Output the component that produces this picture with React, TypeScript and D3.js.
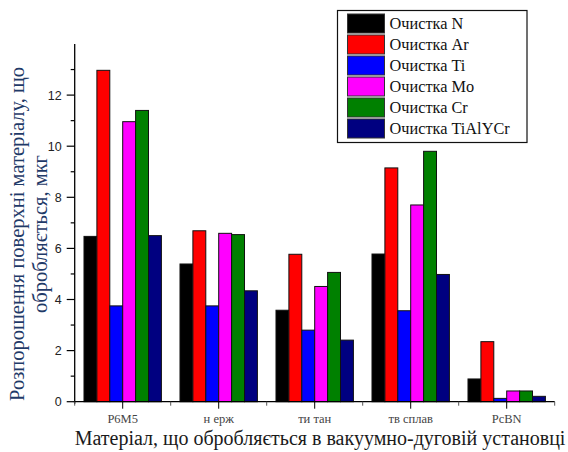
import React, { useEffect, useRef } from 'react';
import * as d3 from 'd3';

const categories = ['P6M5', 'н ерж', 'ти тан', 'тв сплав', 'PcBN'];
const seriesNames = ['Очистка N', 'Очистка Ar', 'Очистка Ti', 'Очистка Mo', 'Очистка Cr', 'Очистка TiAlYCr'];
const seriesColors = ['#000000', '#ff0000', '#0000ff', '#ff00ff', '#008000', '#000080'];

const cleanN = [6.47, 5.39, 3.58, 5.78, 0.89];
const cleanAr = [12.97, 6.69, 5.77, 9.15, 2.35];
const cleanTi = [3.75, 3.75, 2.8, 3.56, 0.13];
const cleanMo = [10.96, 6.59, 4.51, 7.7, 0.42];
const cleanCr = [11.4, 6.54, 5.06, 9.8, 0.42];
const cleanTiAlYCr = [6.5, 4.34, 2.41, 4.98, 0.21];
const seriesValues = [cleanN, cleanAr, cleanTi, cleanMo, cleanCr, cleanTiAlYCr];

const yMajorTicks = [0, 2, 4, 6, 8, 10, 12];
const yMinorTicks = [1, 3, 5, 7, 9, 11, 13];

const W = 568;
const H = 452;
const SERIF = 'Liberation Serif, DejaVu Serif, serif';

const App: React.FC = () => {
  const svgRef = useRef<SVGSVGElement>(null);

  useEffect(() => {
    if (!svgRef.current) return;
    const svg = d3.select(svgRef.current);
    svg.selectAll('*').remove();

    const left = 74.7, right = 554.7, top = 44, bottom = 401.7;

    const x = d3.scaleBand<string>().domain(categories).range([left, right]).padding(0);
    const xs = d3.scaleBand<string>()
      .domain(seriesNames)
      .range([0, x.bandwidth()])
      .paddingInner(0)
      .paddingOuter(0.72);
    const y = d3.scaleLinear().domain([0, 14]).range([bottom, top]);

    // bars
    seriesNames.forEach((name, si) => {
      svg.append('g')
        .selectAll('rect')
        .data(seriesValues[si])
        .enter().append('rect')
        .attr('x', (_d, i) => (x(categories[i]) || 0) + (xs(name) || 0))
        .attr('y', d => y(d))
        .attr('width', xs.bandwidth())
        .attr('height', d => bottom - y(d))
        .attr('fill', seriesColors[si])
        .attr('stroke', '#111')
        .attr('stroke-width', 1);
    });

    // y axis
    const ya = svg.append('g');
    ya.append('line')
      .attr('x1', left).attr('x2', left)
      .attr('y1', top).attr('y2', bottom + 2)
      .attr('stroke', '#000').attr('stroke-width', 1.3);
    ya.selectAll('.maj').data(yMajorTicks).enter().append('line')
      .attr('x1', left - 8).attr('x2', left)
      .attr('y1', d => y(d)).attr('y2', d => y(d))
      .attr('stroke', '#000').attr('stroke-width', 1.2);
    ya.selectAll('.min').data(yMinorTicks).enter().append('line')
      .attr('x1', left - 4).attr('x2', left)
      .attr('y1', d => y(d)).attr('y2', d => y(d))
      .attr('stroke', '#000').attr('stroke-width', 1.2);
    ya.selectAll('text').data(yMajorTicks).enter().append('text')
      .attr('x', left - 13)
      .attr('y', d => y(d) + 4.5)
      .attr('text-anchor', 'end')
      .attr('font-family', 'Liberation Sans, Arial, sans-serif')
      .attr('font-size', 12.5)
      .attr('fill', '#222')
      .text(d => d);

    // x axis
    const xa = svg.append('g');
    xa.append('line')
      .attr('x1', left - 1).attr('x2', right)
      .attr('y1', bottom).attr('y2', bottom)
      .attr('stroke', '#000').attr('stroke-width', 1.3);
    const bounds = [...categories.map(c => x(c) || 0), right];
    xa.selectAll('.b').data(bounds).enter().append('line')
      .attr('x1', d => d).attr('x2', d => d)
      .attr('y1', bottom).attr('y2', bottom + 4)
      .attr('stroke', '#555').attr('stroke-width', 1);
    xa.selectAll('.c').data(categories).enter().append('line')
      .attr('x1', d => (x(d) || 0) + x.bandwidth() / 2)
      .attr('x2', d => (x(d) || 0) + x.bandwidth() / 2)
      .attr('y1', bottom).attr('y2', bottom + 7)
      .attr('stroke', '#000').attr('stroke-width', 1);
    xa.selectAll('text').data(categories).enter().append('text')
      .attr('x', d => (x(d) || 0) + x.bandwidth() / 2)
      .attr('y', 423)
      .attr('text-anchor', 'middle')
      .attr('font-family', SERIF)
      .attr('font-size', 12.5)
      .attr('fill', '#444')
      .text(d => d);

    // axis titles
    svg.append('text')
      .attr('x', left)
      .attr('y', 445)
      .attr('font-family', SERIF)
      .attr('font-size', 20)
      .attr('fill', '#1a1a1a')
      .text('Матеріал, що обробляється в вакуумно-дуговій установці');

    const yl = svg.append('text')
      .attr('transform', 'translate(24,234) rotate(-90)')
      .attr('text-anchor', 'middle')
      .attr('font-family', SERIF)
      .attr('font-size', 20.5)
      .attr('fill', '#1f3a68');
    yl.append('tspan').attr('x', 0).attr('y', 0).text('Розпорошення поверхні матеріалу, що');
    yl.append('tspan').attr('x', 0).attr('y', 23).text('обробляється, мкг');

    // legend
    const lg = svg.append('g');
    lg.append('rect')
      .attr('x', 337.5).attr('y', 10.5)
      .attr('width', 189.5).attr('height', 132)
      .attr('fill', '#fff').attr('stroke', '#111').attr('stroke-width', 1.2);
    seriesNames.forEach((name, i) => {
      const ry = 14 + i * 21;
      lg.append('rect')
        .attr('x', 347.5).attr('y', ry)
        .attr('width', 37).attr('height', 19)
        .attr('fill', seriesColors[i])
        .attr('stroke', '#333').attr('stroke-width', 1);
      lg.append('text')
        .attr('x', 389.5).attr('y', ry + 14.5)
        .attr('font-family', SERIF)
        .attr('font-size', 16.3)
        .attr('fill', '#111')
        .text(name);
    });
  }, []);

  return (
    <svg ref={svgRef} width={W} height={H}
      style={{ position: 'absolute', left: 0, top: 0, background: '#fff' }} />
  );
};

export default App;
